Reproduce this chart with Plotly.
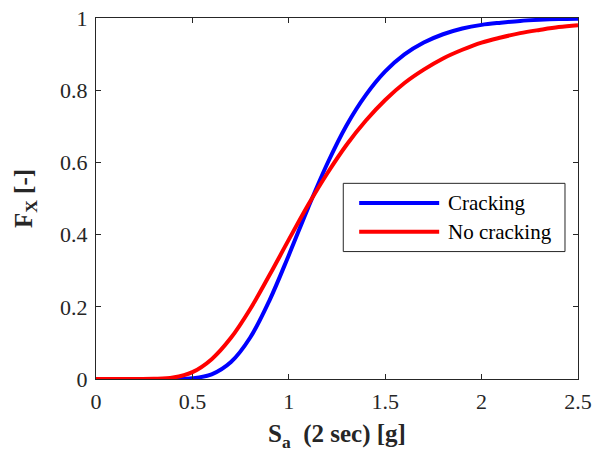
import plotly.graph_objects as go

# Spectral acceleration Sa(2 sec) [g]
sa = [0.0, 0.1, 0.2, 0.3, 0.4, 0.5, 0.6, 0.7, 0.8, 0.9, 1.0, 1.1, 1.2, 1.3,
      1.4, 1.5, 1.6, 1.7, 1.8, 1.9, 2.0, 2.1, 2.2, 2.3, 2.4, 2.5]

# Fragility (probability of exceedance) for each case
fx_cracking = [0.0, 0.0, 0.0, 0.0, 0.0001, 0.002, 0.013, 0.047, 0.115, 0.218,
               0.343, 0.474, 0.597, 0.703, 0.787, 0.852, 0.899, 0.932, 0.955,
               0.971, 0.981, 0.987, 0.992, 0.995, 0.997, 0.998]
fx_no_cracking = [0.0, 0.0, 0.0, 0.0004, 0.004, 0.019, 0.055, 0.114, 0.194, 0.288,
                  0.386, 0.482, 0.570, 0.649, 0.716, 0.773, 0.820, 0.857, 0.888,
                  0.912, 0.932, 0.946, 0.958, 0.967, 0.975, 0.980]

series_names = ["Cracking", "No cracking"]
series_colors = ["#0000ff", "#ff0000"]

x_ticks = [0, 0.5, 1, 1.5, 2, 2.5]
x_tick_text = ["0", "0.5", "1", "1.5", "2", "2.5"]
y_ticks = [0, 0.2, 0.4, 0.6, 0.8, 1]
y_tick_text = ["0", "0.2", "0.4", "0.6", "0.8", "1"]

FONT = "Liberation Serif"
AXIS_COLOR = "#262626"

fig = go.Figure()
for ys, name, color in zip([fx_cracking, fx_no_cracking], series_names, series_colors):
    fig.add_trace(go.Scatter(x=sa, y=ys, mode="lines", name=name, showlegend=False,
                             line=dict(color=color, width=4, shape="spline")))

axis_common = dict(showline=True, linecolor=AXIS_COLOR, linewidth=1, mirror="ticks",
                   ticks="inside", ticklen=5, tickcolor=AXIS_COLOR, showgrid=False,
                   zeroline=False, automargin=False, ticklabelstandoff=3,
                   tickfont=dict(family=FONT, size=22, color=AXIS_COLOR))

fig.update_xaxes(range=[0, 2.5], tickvals=x_ticks, ticktext=x_tick_text,
                 title=dict(text="<b>S<sub>a</sub>  (2 sec) [g]</b>", standoff=11,
                            font=dict(family=FONT, size=25, color=AXIS_COLOR)),
                 **axis_common)
fig.update_yaxes(range=[0, 1], tickvals=y_ticks, ticktext=y_tick_text,
                 title=dict(text="<b>F<sub>X</sub> [-]</b>", standoff=20,
                            font=dict(family=FONT, size=25, color=AXIS_COLOR)),
                 **axis_common)

# Legend box drawn in the upper-right part of the axes (paper coordinates)
shapes = [dict(type="rect", xref="paper", yref="paper", x0=0.513, x1=0.973,
               y0=0.353, y1=0.542, line=dict(color=AXIS_COLOR, width=1),
               fillcolor="white", layer="above")]
annotations = []
row_y = [0.4875, 0.408]
for ry, name, color in zip(row_y, series_names, series_colors):
    shapes.append(dict(type="line", xref="paper", yref="paper", x0=0.546, x1=0.712,
                       y0=ry, y1=ry, line=dict(color=color, width=4), layer="above"))
    annotations.append(dict(xref="paper", yref="paper", x=0.727, y=ry, text=name,
                            showarrow=False, xanchor="left", yanchor="middle",
                            font=dict(family=FONT, size=21, color="black")))

fig.update_layout(
    width=595, height=454,
    margin=dict(l=96, r=17, t=18, b=75),
    paper_bgcolor="white", plot_bgcolor="white",
    font=dict(family=FONT),
    shapes=shapes, annotations=annotations,
)

fig.write_html("out.html")
